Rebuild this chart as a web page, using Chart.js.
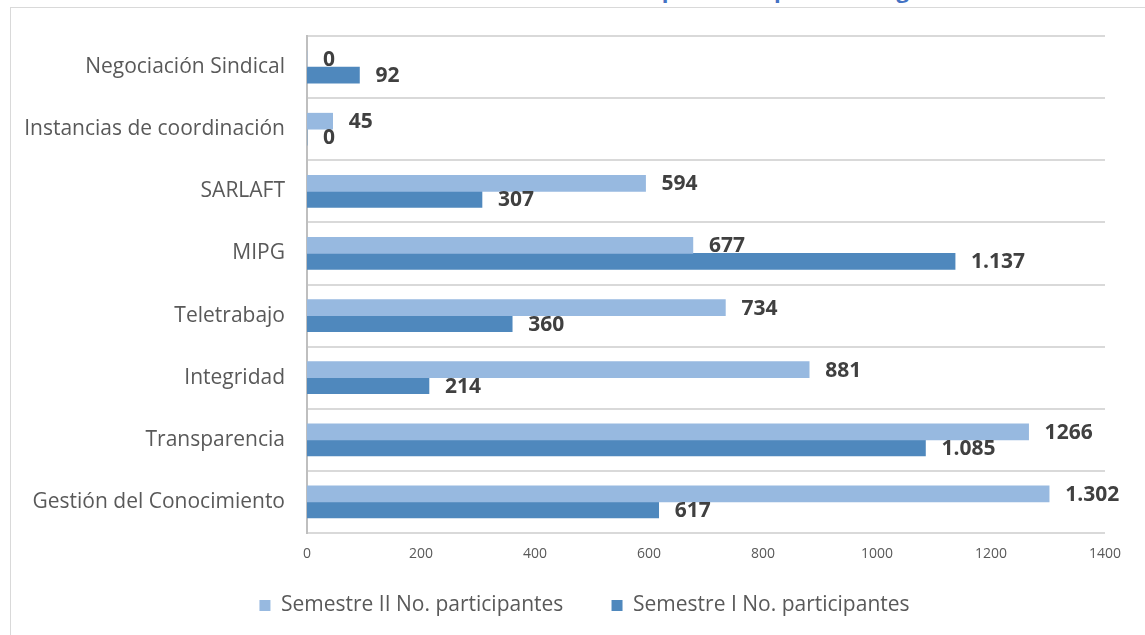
<!DOCTYPE html>
<html lang="es">
<head>
<meta charset="utf-8">
<title>Participantes por estrategia</title>
<script src="https://cdn.jsdelivr.net/npm/chart.js@4.4.1/dist/chart.umd.min.js"></script>
<style>
  html, body { margin: 0; padding: 0; background: #fff; overflow: hidden; }
  body { width: 1145px; height: 635px; position: relative; font-family: "Open Sans", sans-serif; }
  .titulo {
    position: absolute; left: 0; width: 1170px; top: -23px; text-align: center;
    font: bold 22px/24px "Open Sans", sans-serif; color: #4472C4; white-space: nowrap;
  }
  .marco {
    position: absolute; left: 10px; top: 7px; width: 1145px; height: 640px;
    border-left: 1px solid #d9d9d9; border-top: 1px solid #d9d9d9;
  }
  .lienzo { position: absolute; left: 0; top: 0; width: 1145px; height: 635px; }
</style>
</head>
<body>
<div class="titulo">Gráfico No. 1 Número de servidores capacitados por estrategia</div>
<div class="marco"></div>
<div class="lienzo"><canvas id="chartEstrategias"></canvas></div>
<script>
// categorías de arriba hacia abajo
const CATEGORIAS = ["Negociación Sindical", "Instancias de coordinación", "SARLAFT", "MIPG", "Teletrabajo", "Integridad", "Transparencia", "Gestión del Conocimiento"];
const SEM2 = [0, 45, 594, 677, 734, 881, 1266, 1302];
const SEM1 = [92, 0, 307, 1137, 360, 214, 1085, 617];
const SEM2_TXT = ["0", "45", "594", "677", "734", "881", "1266", "1.302"];
const SEM1_TXT = ["92", "0", "307", "1.137", "360", "214", "1.085", "617"];
const X_TICKS = [0, 200, 400, 600, 800, 1000, 1200, 1400];

const COL_SEM2 = "#97B9E0";
const COL_SEM1 = "#4F88BD";
const TXT = "#404040";
const MUTED = "#595959";
const GRID = "#d9d9d9";

// etiquetas de valor al final de cada barra
const etiquetas = {
  id: "etiquetas",
  afterDatasetsDraw(chart) {
    const ctx = chart.ctx;
    const textos = [SEM2_TXT, SEM1_TXT];
    ctx.save();
    ctx.font = "bold 21px 'Open Sans', sans-serif";
    ctx.fillStyle = TXT;
    ctx.textAlign = "left";
    ctx.textBaseline = "middle";
    chart.data.datasets.forEach((ds, i) => {
      chart.getDatasetMeta(i).data.forEach((bar, j) => {
        ctx.fillText(textos[i][j], bar.x + 16, bar.y + 1);
      });
    });
    ctx.restore();
  },
};

// la leyenda va centrada bajo todo el marco, no solo bajo el área
const moverLeyenda = {
  id: "moverLeyenda",
  afterLayout(chart) {
    chart.legend.left += 32;
    chart.legend.right += 32;
  },
};

new Chart(document.getElementById("chartEstrategias"), {
  type: "bar",
  data: {
    labels: CATEGORIAS,
    datasets: [
      { label: "Semestre II No. participantes", data: SEM2, backgroundColor: COL_SEM2, barThickness: 16 },
      { label: "Semestre I No. participantes", data: SEM1, backgroundColor: COL_SEM1, barThickness: 16 },
    ],
  },
  options: {
    indexAxis: "y",
    responsive: true,
    maintainAspectRatio: false,
    animation: false,
    layout: { padding: { top: 36, right: 40, bottom: 9, left: 0 } },
    plugins: {
      legend: {
        position: "bottom",
        labels: {
          color: MUTED,
          font: { family: "Open Sans", size: 21 },
          boxWidth: 11,
          boxHeight: 11,
          padding: 10,
          generateLabels(chart) {
            const items = Chart.defaults.plugins.legend.labels.generateLabels(chart);
            items[0].text += "       ";
            return items;
          },
        },
      },
      tooltip: { enabled: false },
    },
    scales: {
      x: {
        min: 0,
        max: 1400,
        afterBuildTicks: (s) => { s.ticks = X_TICKS.map((v) => ({ value: v })); },
        afterFit: (s) => { s.height = 52; },
        grid: { display: false, drawTicks: false },
        border: { display: false },
        ticks: { color: MUTED, font: { family: "Open Sans", size: 14 }, padding: 13, callback: (v) => String(v) },
      },
      y: {
        afterFit: (s) => { s.width = 307; },
        grid: { color: GRID, lineWidth: 2, drawTicks: false, offset: true },
        border: { color: "#bfbfbf", width: 2 },
        ticks: { color: MUTED, font: { family: "Open Sans", size: 21 }, padding: 22 },
      },
    },
  },
  plugins: [etiquetas, moverLeyenda],
});
</script>
</body>
</html>
